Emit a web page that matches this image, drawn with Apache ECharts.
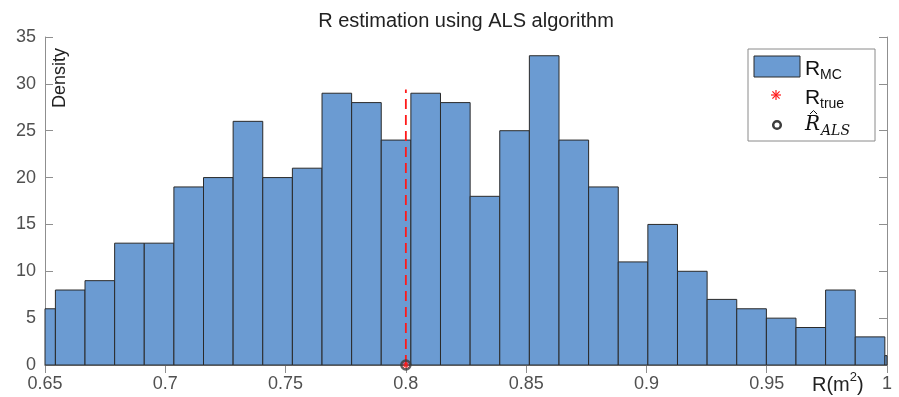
<!DOCTYPE html>
<html>
<head>
<meta charset="utf-8">
<script src="https://cdn.jsdelivr.net/npm/echarts@6/dist/echarts.min.js"></script>
<style>
  html, body { margin: 0; padding: 0; background: #fff; }
  #chart { width: 899px; height: 397px; }
</style>
</head>
<body>
<div id="chart"></div>
<script>
// histogram bin edges (R, m^2) and counts per bin
const binEdges = [
  0.64201, 0.65432, 0.66663, 0.67895, 0.69126, 0.70358, 0.71589, 0.72820,
  0.74052, 0.75283, 0.76515, 0.77746, 0.78977, 0.80209, 0.81440, 0.82672,
  0.83903, 0.85134, 0.86366, 0.87597, 0.88829, 0.90060, 0.91291, 0.92523,
  0.93754, 0.94986, 0.96217, 0.97448, 0.98680, 0.99911, 1.01143
];
const binCounts = [
  6, 8, 9, 13, 13, 19, 20, 26, 20, 21,
  29, 28, 24, 29, 28, 18, 25, 33, 24, 19,
  11, 15, 10, 7, 6, 5, 4, 8, 3, 1
];
const rTrue = 0.8;
const rTrueLineTop = 29.4;
const rAls = 0.8;
const xTicks = { min: 0.65, max: 1, step: 0.05 };
const yTicks = { min: 0, max: 35, step: 5 };

const barFill = '#6b9bd2';
const barEdge = '#2a2a2a';
const axisGray = '#8f8f8f';
const labelGray = '#505050';
const trueRed = '#ff1a1a';

const histData = binCounts.map((c, i) => [binEdges[i], binEdges[i + 1], c]);

const chart = echarts.init(document.getElementById('chart'));

const axisCommon = {
  type: 'value',
  axisLine: { show: true, lineStyle: { color: axisGray, width: 1 } },
  axisTick: { show: true, inside: true, length: 8, lineStyle: { color: axisGray } },
  splitLine: { show: false }
};

// little red asterisk for the legend (centre cx, cy)
function asterisk(cx, cy, r) {
  const d = r * 0.72;
  const segs = [[0, -r, 0, r], [-r, 0, r, 0], [-d, -d, d, d], [d, -d, -d, d]];
  return segs.map(s => ({
    type: 'line', z: 21,
    shape: { x1: cx + s[0], y1: cy + s[1], x2: cx + s[2], y2: cy + s[3] },
    style: { stroke: trueRed, lineWidth: 1.2 }
  }));
}

const option = {
  animation: false,
  grid: { left: 45, right: 12, top: 37, bottom: 32, containLabel: false },
  xAxis: [
    Object.assign({}, axisCommon, {
      position: 'bottom',
      min: xTicks.min, max: xTicks.max, interval: xTicks.step,
      axisLabel: {
        color: labelGray, fontSize: 18, fontFamily: 'Liberation Sans, Arial', margin: 10,
        showMinLabel: true, showMaxLabel: true,
        formatter: v => String(+v.toFixed(2))
      }
    }),
    Object.assign({}, axisCommon, {
      position: 'top',
      min: xTicks.min, max: xTicks.max, interval: xTicks.step,
      axisLabel: { show: false }
    })
  ],
  yAxis: [
    Object.assign({}, axisCommon, {
      position: 'left',
      min: yTicks.min, max: yTicks.max, interval: yTicks.step,
      axisLabel: { color: labelGray, fontSize: 18, fontFamily: 'Liberation Sans, Arial', margin: 9 }
    }),
    Object.assign({}, axisCommon, {
      position: 'right',
      min: yTicks.min, max: yTicks.max, interval: yTicks.step,
      axisLabel: { show: false }
    })
  ],
  series: [
    {
      name: 'R_MC',
      type: 'custom',
      data: histData,
      encode: { x: [0, 1], y: 2 },
      z: 2,
      renderItem: function (params, api) {
        const p0 = api.coord([api.value(0), api.value(2)]);
        const p1 = api.coord([api.value(1), 0]);
        const rect = echarts.graphic.clipRectByRect(
          { x: p0[0], y: p0[1], width: p1[0] - p0[0], height: p1[1] - p0[1] },
          { x: params.coordSys.x, y: params.coordSys.y, width: params.coordSys.width, height: params.coordSys.height }
        );
        if (!rect) return null;
        return {
          type: 'rect',
          shape: rect,
          style: { fill: barFill, stroke: barEdge, lineWidth: 1 }
        };
      }
    },
    {
      name: 'R_true line',
      type: 'line',
      data: [[rTrue, 0], [rTrue, rTrueLineTop]],
      symbol: 'none',
      z: 4,
      lineStyle: { color: trueRed, width: 1.8, type: [10, 6] }
    },
    {
      name: 'R_true',
      type: 'scatter',
      data: [[rTrue, 0]],
      symbol: 'path://M5 0L5 10M0 5L10 5M1.5 1.5L8.5 8.5M8.5 1.5L1.5 8.5',
      symbolSize: 8,
      z: 5,
      itemStyle: { color: 'rgba(0,0,0,0)', borderColor: trueRed, borderWidth: 1.2 }
    },
    {
      name: 'R_ALS',
      type: 'scatter',
      data: [[rAls, 0]],
      symbol: 'circle',
      symbolSize: 9,
      z: 6,
      itemStyle: { color: 'rgba(0,0,0,0)', borderColor: '#3c3c3c', borderWidth: 2.5 }
    }
  ],
  graphic: [
    {
      type: 'text', x: 466, y: 21, z: 10,
      style: {
        text: 'R estimation using ALS algorithm',
        font: '20px "Liberation Sans", Arial', fill: '#222',
        textAlign: 'center', textVerticalAlign: 'middle'
      }
    },
    {
      type: 'text', x: 60, y: 78, rotation: Math.PI / 2, z: 10,
      style: {
        text: 'Density', font: '18px "Liberation Sans", Arial', fill: '#222',
        textAlign: 'center', textVerticalAlign: 'middle'
      }
    },
    {
      type: 'text', x: 812, y: 383, z: 10,
      style: {
        text: '{b|R(m}{s|2}{b|)}', fill: '#222', textVerticalAlign: 'middle',
        rich: {
          b: { fontSize: 20, fontFamily: 'Liberation Sans', color: '#222', verticalAlign: 'bottom', lineHeight: 24 },
          s: { fontSize: 13, fontFamily: 'Liberation Sans', color: '#222', verticalAlign: 'top', lineHeight: 24, padding: [0, 0, 8, 0] }
        }
      }
    },
    // legend box
    {
      type: 'rect', z: 20,
      shape: { x: 748, y: 49, width: 127, height: 92 },
      style: { fill: '#fff', stroke: '#8a8a8a', lineWidth: 1 }
    },
    {
      type: 'rect', z: 21,
      shape: { x: 754, y: 56, width: 46, height: 21 },
      style: { fill: barFill, stroke: barEdge, lineWidth: 1 }
    },
    {
      type: 'text', x: 805, y: 69, z: 21,
      style: { text: 'R', font: '21px "Liberation Sans", Arial', fill: '#111', textVerticalAlign: 'middle' }
    },
    {
      type: 'text', x: 820, y: 75, z: 21,
      style: { text: 'MC', font: '14px "Liberation Sans", Arial', fill: '#111', textVerticalAlign: 'middle' }
    }
  ].concat(asterisk(776, 95, 5)).concat([
    {
      type: 'text', x: 805, y: 98, z: 21,
      style: { text: 'R', font: '21px "Liberation Sans", Arial', fill: '#111', textVerticalAlign: 'middle' }
    },
    {
      type: 'text', x: 820, y: 104, z: 21,
      style: { text: 'true', font: '14px "Liberation Sans", Arial', fill: '#111', textVerticalAlign: 'middle' }
    },
    {
      type: 'circle', z: 21,
      shape: { cx: 777, cy: 125, r: 3.8 },
      style: { fill: 'none', stroke: '#3c3c3c', lineWidth: 2.5 }
    },
    {
      type: 'text', x: 805, y: 125, z: 21,
      style: { text: 'R', font: 'italic 20px "DejaVu Serif", serif', fill: '#111', textVerticalAlign: 'middle' }
    },
    {
      type: 'polyline', z: 21,
      shape: { points: [[810, 114], [813.5, 110.5], [817, 114]] },
      style: { fill: 'none', stroke: '#111', lineWidth: 1 }
    },
    {
      type: 'text', x: 821, y: 131, z: 21,
      style: { text: 'ALS', font: 'italic 14px "DejaVu Serif", serif', fill: '#111', textVerticalAlign: 'middle' }
    }
  ])
};

chart.setOption(option);
window.addEventListener('resize', () => chart.resize());
</script>
</body>
</html>
